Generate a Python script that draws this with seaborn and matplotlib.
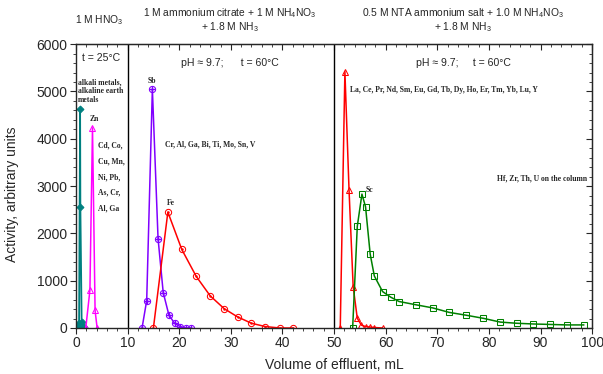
import numpy as np
import pandas as pd
import seaborn as sns
import matplotlib.pyplot as plt
from matplotlib.ticker import MultipleLocator

# alkali / alkaline earth metals (1 M HNO3)
alk_x = [0.0, 0.3, 0.6, 0.8, 0.85, 1.1, 1.5]
alk_y = [0, 40, 100, 4620, 2560, 120, 20]
# Zn
zn_x = [1.9, 2.7, 3.2, 3.7, 4.1]
zn_y = [0, 800, 4230, 370, 0]
# Sb
sb_x = [12.8, 13.7, 14.8, 15.9, 16.9, 18.0, 19.1, 20.2, 21.3, 22.3]
sb_y = [0, 580, 5050, 1890, 750, 275, 100, 30, 0, 0]
# Fe
fe_x = [15.0, 17.8, 20.5, 23.3, 26.0, 28.7, 31.3, 34.0, 36.7, 39.5, 42.1]
fe_y = [0, 2450, 1660, 1090, 680, 410, 235, 100, 30, 0, 0]
# REE
ree_x = [51.2, 52.1, 52.9, 53.7, 54.5, 55.3, 56.1, 56.9, 57.8, 59.4]
ree_y = [0, 5420, 2920, 875, 205, 60, 30, 20, 10, 0]
# Sc
sc_x = [53.6, 54.5, 55.4, 56.1, 57.0, 57.8, 59.4, 61.0, 62.6, 65.9, 69.1, 72.3,
        75.6, 78.9, 82.2, 85.4, 88.6, 91.9, 95.1, 98.4]
sc_y = [0, 2150, 2830, 2560, 1560, 1100, 770, 650, 560, 490, 425, 330,
        270, 205, 125, 100, 85, 75, 65, 65]

sns.set_style("ticks")
plt.rcParams['font.family'] = ['Liberation Sans', 'DejaVu Sans']
plt.rcParams['mathtext.fontset'] = 'custom'
plt.rcParams['mathtext.rm'] = 'Liberation Sans'
plt.rcParams['mathtext.it'] = 'Liberation Sans:italic'

fig, ax = plt.subplots(figsize=(6.03, 3.74), dpi=100)
fig.subplots_adjust(left=0.126, right=0.982, top=0.882, bottom=0.123)

teal = "#008080"
mag = "#ff00ff"
purp = "#8000ff"
red = "#ff0000"
green = "#008000"

sns.lineplot(x=alk_x, y=alk_y, ax=ax, color=teal, lw=1.3, marker="D", ms=3.5,
             mec=teal, estimator=None, sort=False)
sns.lineplot(x=zn_x, y=zn_y, ax=ax, color=mag, lw=1.1, marker="^", ms=4.5,
             mfc="none", mec=mag, estimator=None, sort=False)
sns.lineplot(x=sb_x, y=sb_y, ax=ax, color=purp, lw=1.1, marker="o", ms=4.5,
             mfc="none", mec=purp, estimator=None, sort=False)
ax.plot(sb_x, sb_y, ls="", marker="+", ms=4.5, color=purp, mew=1)
sns.lineplot(x=fe_x, y=fe_y, ax=ax, color=red, lw=1.1, marker="o", ms=4.5,
             mfc="none", mec=red, estimator=None, sort=False)
ax.plot(fe_x, fe_y, ls="", marker=".", ms=1.5, color=red)
sns.lineplot(x=ree_x, y=ree_y, ax=ax, color=red, lw=1.1, marker="^", ms=4.5,
             mfc="none", mec=red, estimator=None, sort=False)
sns.lineplot(x=sc_x, y=sc_y, ax=ax, color=green, lw=1.1, marker="s", ms=3.8,
             mfc="none", mec=green, estimator=None, sort=False)

ax.axvline(10, color="black", lw=1)
ax.axvline(50, color="black", lw=1)

ax.set_xlim(0, 100)
ax.set_ylim(0, 6000)
ax.xaxis.set_major_locator(MultipleLocator(10))
ax.xaxis.set_minor_locator(MultipleLocator(2))
ax.yaxis.set_major_locator(MultipleLocator(1000))
ax.yaxis.set_minor_locator(MultipleLocator(200))
for s in ax.spines.values():
    s.set_visible(True)
    s.set_linewidth(1)
ax.tick_params(axis="both", which="both", direction="out", top=False, right=False,
               labelsize=10, pad=2)
ax.tick_params(which="major", length=4)
ax.tick_params(which="minor", length=2.5)
ax2 = ax.secondary_xaxis("top")
ax2.xaxis.set_major_locator(MultipleLocator(10))
ax2.xaxis.set_minor_locator(MultipleLocator(2))
ax2.tick_params(which="both", direction="in", labeltop=False)
ax2.tick_params(which="major", length=4)
ax2.tick_params(which="minor", length=2.5)
ay2 = ax.secondary_yaxis("right")
ay2.yaxis.set_major_locator(MultipleLocator(1000))
ay2.yaxis.set_minor_locator(MultipleLocator(200))
ay2.tick_params(which="both", direction="in", labelright=False)
ay2.tick_params(which="major", length=4)
ay2.tick_params(which="minor", length=2.5)

ax.set_xlabel("Volume of effluent, mL", fontsize=10)
ax.set_ylabel("Activity, arbitrary units", fontsize=10)
ax.xaxis.set_label_coords(0.5, -0.105)
ax.yaxis.set_label_coords(-0.11, 0.47)

# headers above the plot
hdr = dict(ha="center", va="center", fontsize=7.4, clip_on=False)
ax.text(4.6, 6500, "1 M HNO$_3$", **hdr)
ax.text(29.8, 6510, "1 M ammonium citrate + 1 M NH$_4$NO$_3$\n+ 1.8 M NH$_3$",
        linespacing=1.05, **hdr)
ax.text(75.0, 6510, "0.5 M NTA ammonium salt + 1.0 M NH$_4$NO$_3$\n+ 1.8 M NH$_3$",
        linespacing=1.05, **hdr)

ax.text(1.1, 5710, "t = 25°C", ha="left", va="center", fontsize=7.6)
ax.text(29.8, 5600, "pH ≈ 9.7;      t = 60°C", ha="center", va="center", fontsize=7.6)
ax.text(75.0, 5600, "pH ≈ 9.7;     t = 60°C", ha="center", va="center", fontsize=7.6)

# element labels
el = dict(family=["Liberation Serif", "DejaVu Serif"], fontweight="bold",
          fontsize=5.5, va="center")
ax.text(0.4, 5010, "alkali metals,\nalkaline earth\nmetals", ha="left",
        linespacing=1.1, **el)
ax.text(3.5, 4420, "Zn", ha="center", **el)
ax.text(4.3, 3190, "Cd, Co,\nCu, Mn,\nNi, Pb,\nAs, Cr,\nAl, Ga", ha="left",
        linespacing=2.3, **el)
ax.text(14.7, 5230, "Sb", ha="center", **el)
ax.text(17.2, 3890, "Cr, Al, Ga, Bi, Ti, Mo, Sn, V", ha="left", **el)
ax.text(17.6, 2640, "Fe", ha="left", **el)
ax.text(53.1, 5030, "La, Ce, Pr, Nd, Sm, Eu, Gd, Tb, Dy, Ho, Er, Tm, Yb, Lu, Y",
        ha="left", **el)
ax.text(56.2, 2920, "Sc", ha="left", **el)
ax.text(81.6, 3170, "Hf, Zr, Th, U on the column", ha="left", **el)

fig.savefig("out.png", dpi=100)
